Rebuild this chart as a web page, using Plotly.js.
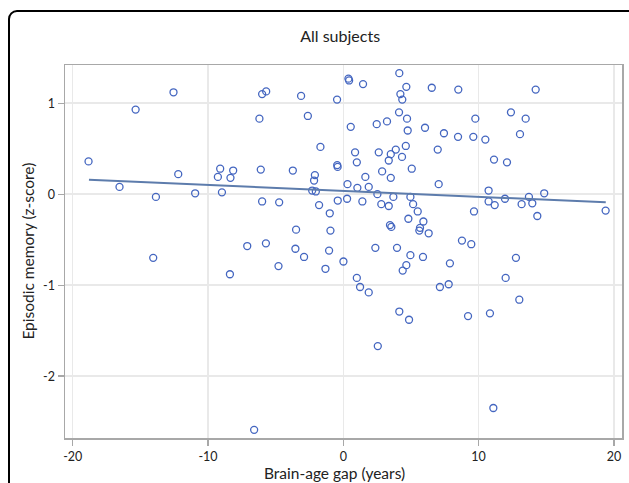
<!DOCTYPE html>
<html>
<head>
<meta charset="utf-8">
<script src="https://cdn.plot.ly/plotly-3.0.1.min.js"></script>
<style>
  html, body { margin: 0; padding: 0; background: #fff; overflow: hidden; }
  #wrap { position: relative; width: 629px; height: 483px; }
  #chart { position: absolute; left: 0; top: 0; width: 629px; height: 483px; }
  #frame { position: absolute; left: 8px; top: 10px; width: 640px; height: 500px;
           border: 2.5px solid #000; border-radius: 9px; pointer-events: none; box-sizing: border-box; }
</style>
</head>
<body>
<div id="wrap">
  <div id="chart"></div>
  <div id="frame"></div>
</div>
<script>
// Brain-age gap (years)
var gapYears = [
  -18.83, -12.55, -15.35, -16.54, -12.2, -13.85, -10.95, -9.1, -9.27, -8.14,
  -8.34, -8.97, -6.0, -5.7, -6.2, -6.1, -6.0, -7.1, -14.05, -3.12,
  -0.46, 0.38, 0.43, 1.46, 4.14, 4.66, 4.22, 4.36, 6.54, -2.62,
  0.55, 2.47, 3.23, 4.12, 4.71, 4.76, 6.04, 7.44, -1.69, 0.87,
  1.0, 2.62, 3.36, 3.51, 3.88, 4.62, 4.34, 5.06, 6.98, -3.73,
  -2.1, -2.16, -2.3, -2.03, -0.45, -0.42, 1.63, 0.31, 1.04, 1.88,
  2.87, 3.51, 2.52, 3.70, 4.96, 5.16, 5.50, 7.05, -4.74, -1.79,
  -0.41, 0.28, 1.41, 2.81, 3.36, -1.0, -3.49, -0.95, 3.45, 3.55,
  4.81, 5.92, 5.67, 5.62, 6.31, -5.72, -3.54, -1.05, 2.37, 3.97,
  -2.9, 4.96, 5.89, 8.5, 14.22, 12.39, 9.76, 13.48, 8.48, 9.61,
  10.5, 13.06, 11.14, 12.1, 10.74, 10.74, 11.19, 11.95, 13.72, 13.18,
  13.97, 14.85, 14.34, 19.39, 9.66, 8.77, 9.46, 12.76, 7.88, 7.14,
  7.79, 12.0, 13.01, 9.22, 10.84, 11.09, -4.79, -1.32, 0.01, 4.66,
  4.39, 1.0, 1.24, 1.88, 4.14, 4.86, 2.55, -6.59, -8.38
];
// Episodic memory (z-score)
var memoryZ = [
  0.36, 1.12, 0.93, 0.08, 0.22, -0.03, 0.01, 0.28, 0.19, 0.26,
  0.18, 0.02, 1.10, 1.13, 0.83, 0.27, -0.08, -0.57, -0.70, 1.08,
  1.04, 1.27, 1.25, 1.21, 1.33, 1.18, 1.10, 1.04, 1.17, 0.86,
  0.74, 0.77, 0.80, 0.90, 0.83, 0.70, 0.73, 0.67, 0.52, 0.46,
  0.35, 0.46, 0.37, 0.44, 0.49, 0.53, 0.41, 0.28, 0.49, 0.26,
  0.21, 0.15, 0.04, 0.03, 0.32, 0.30, 0.19, 0.11, 0.07, 0.08,
  0.25, 0.18, 0.0, -0.03, -0.03, -0.11, -0.19, 0.11, -0.09, -0.12,
  -0.07, -0.05, -0.08, -0.11, -0.13, -0.21, -0.39, -0.40, -0.34, -0.36,
  -0.27, -0.30, -0.37, -0.40, -0.43, -0.54, -0.60, -0.62, -0.59, -0.59,
  -0.69, -0.67, -0.69, 1.15, 1.15, 0.90, 0.83, 0.83, 0.63, 0.63,
  0.60, 0.66, 0.38, 0.35, 0.04, -0.08, -0.12, -0.05, -0.03, -0.11,
  -0.10, 0.01, -0.24, -0.18, -0.19, -0.51, -0.55, -0.70, -0.76, -1.02,
  -0.99, -0.92, -1.16, -1.34, -1.31, -2.35, -0.79, -0.82, -0.74, -0.78,
  -0.84, -0.92, -1.02, -1.08, -1.29, -1.38, -1.67, -2.59, -0.88
];
// Fitted regression line endpoints
var fitX = [-18.8, 19.4];
var fitY = [0.16, -0.09];

var xTicks = [-20, -10, 0, 10, 20];
var yTicks = [-2, -1, 0, 1];

var fontFam = 'Lato, "Open Sans", sans-serif';

var traces = [
  {
    type: 'scatter', mode: 'markers',
    x: gapYears, y: memoryZ,
    marker: { symbol: 'circle-open', size: 7, color: '#4466c0', line: { width: 1.3, color: '#4466c0' } },
    hoverinfo: 'x+y', showlegend: false
  },
  {
    type: 'scatter', mode: 'lines',
    x: fitX, y: fitY,
    line: { color: '#5d7cac', width: 2 },
    showlegend: false
  }
];

var axisCommon = {
  showline: true, mirror: true, linecolor: '#a8a8a8', linewidth: 1.5,
  showgrid: true, gridcolor: '#e9e9e9', gridwidth: 1.5,
  zeroline: false,
  ticks: 'outside', ticklen: 6, tickcolor: '#a8a8a8', tickwidth: 1.3,
  tickfont: { family: fontFam, size: 12.5, color: '#222' }
};

var layout = {
  width: 629, height: 483,
  margin: { l: 65, r: 7, t: 65, b: 45 },
  paper_bgcolor: '#fff', plot_bgcolor: '#fff',
  font: { family: fontFam, color: '#222' },
  title: { text: 'All subjects', x: 0.494, xref: 'paper', xanchor: 'center', y: 0.925, yref: 'container',
           yanchor: 'middle', font: { family: fontFam, size: 16, color: '#222' } },
  xaxis: Object.assign({}, axisCommon, {
    range: [-20.57, 20.6], tickvals: xTicks, ticktext: xTicks.map(String)
  }),
  yaxis: Object.assign({}, axisCommon, {
    range: [-2.68, 1.42], tickvals: yTicks, ticktext: yTicks.map(String)
  }),
  annotations: [
    { text: 'Brain-age gap (years)', xref: 'paper', yref: 'paper', x: 0.483, y: -0.094,
      xanchor: 'center', yanchor: 'middle', showarrow: false,
      font: { family: fontFam, size: 15.5, color: '#222' } },
    { text: 'Episodic memory (z-score)', xref: 'paper', yref: 'paper', x: -0.068, y: 0.5,
      xanchor: 'center', yanchor: 'middle', textangle: -90, showarrow: false,
      font: { family: fontFam, size: 15.5, color: '#222' } }
  ]
};

Plotly.newPlot('chart', traces, layout, { displayModeBar: false, staticPlot: true });
</script>
</body>
</html>
